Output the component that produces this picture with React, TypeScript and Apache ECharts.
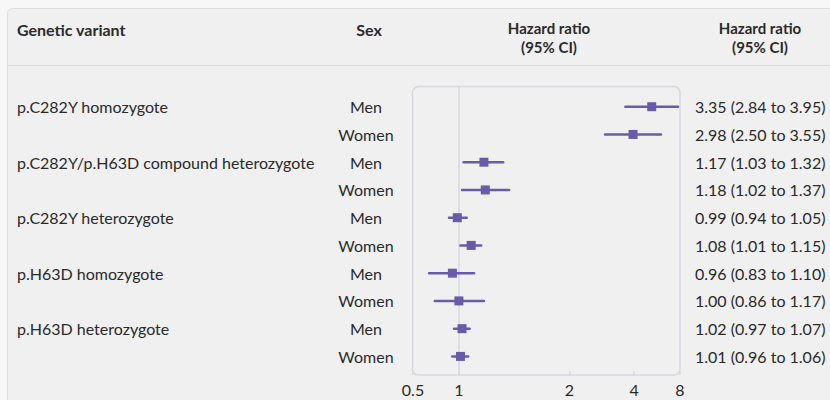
import React, { useEffect, useRef } from "react";
import * as echarts from "echarts";

// ---- data ----
const variants = [
  "p.C282Y homozygote",
  "p.C282Y/p.H63D compound heterozygote",
  "p.C282Y heterozygote",
  "p.H63D homozygote",
  "p.H63D heterozygote",
];
const sexes = ["Men", "Women"];
const hazardRatio = [3.35, 2.98, 1.17, 1.18, 0.99, 1.08, 0.96, 1.0, 1.02, 1.01];
const ciLower = [2.84, 2.5, 1.03, 1.02, 0.94, 1.01, 0.83, 0.86, 0.97, 0.96];
const ciUpper = [3.95, 3.55, 1.32, 1.37, 1.05, 1.15, 1.1, 1.17, 1.07, 1.06];
const tickLabels = ["0.5", "1", "2", "4", "8"];
const tickAt = [0.75, 1, 2, 3, 4]; // scale value where each printed label sits
const axisMin = 0.75;
const axisMax = 4;
const headerVariant = "Genetic variant";
const headerSex = "Sex";
const headerHR = ["Hazard ratio", "(95% CI)"];

// ---- style ----
const PURPLE = "#6a5aaa";
const TEXT = "#2a2a2a";
const BORDER = "#d6d8de";
const FONT = "Lato";
const GRID = { left: 413, right: 150, top: 87, bottom: 25 };

export default function App() {
  const ref = useRef<HTMLDivElement>(null);
  useEffect(() => {
    if (!ref.current) return;
    const chart = echarts.init(ref.current, undefined, { renderer: "svg" });
    const rows: { variant: string; sex: string }[] = [];
    variants.forEach((v) => sexes.forEach((s, si) => rows.push({ variant: si === 0 ? v : "", sex: s })));
    const data = rows.map((r, i) => [i, Math.log2(hazardRatio[i]), Math.log2(ciLower[i]), Math.log2(ciUpper[i])]);
    const tickVals = tickAt.map((t) => Math.log2(t));
    const fmt = (n: number) => n.toFixed(2);
    const bFont = `16px ${FONT}`;
    const headerText = (text: string, x: number, y: number, align: string, size: number) => ({
      type: "text",
      x,
      y,
      style: { text, font: `bold ${size}px ${FONT}`, fill: TEXT, textAlign: align, textVerticalAlign: "middle" },
    });

    chart.setOption({
      animation: false,
      backgroundColor: "#f7f7f7",
      grid: { ...GRID },
      xAxis: {
        type: "value",
        min: Math.log2(axisMin),
        max: Math.log2(axisMax),
        axisLine: { show: false, onZero: false },
        splitLine: { show: false },
        axisTick: {
          show: true,
          inside: true,
          length: 4,
          customValues: tickVals,
          lineStyle: { color: BORDER, width: 1.5 },
        },
        axisLabel: {
          customValues: tickVals,
          margin: 6,
          color: TEXT,
          fontSize: 16,
          fontFamily: FONT,
          formatter: (v: number) => {
            const i = tickVals.findIndex((t) => Math.abs(t - v) < 1e-6);
            return i >= 0 ? tickLabels[i] : "";
          },
        },
      },
      yAxis: {
        type: "value",
        inverse: true,
        min: -0.71,
        max: 9.67,
        show: false,
      },
      graphic: [
        {
          type: "rect",
          z: -10,
          shape: { x: 7.5, y: 8.5, width: 900, height: 500, r: 5 },
          style: { fill: "#f0f0f0", stroke: "#dcdde1", lineWidth: 1 },
        },
        {
          type: "line",
          z: -9,
          shape: { x1: 7.5, y1: 65.5, x2: 830, y2: 65.5 },
          style: { stroke: "#dcdde1", lineWidth: 1 },
        },
        {
          type: "rect",
          z: -8,
          shape: { x: GRID.left - 0.5, y: GRID.top - 0.5, width: 830 - GRID.left - GRID.right + 0.5, height: 400 - GRID.top - GRID.bottom + 0.5, r: 6 },
          style: { fill: "none", stroke: BORDER, lineWidth: 1.5 },
        },
        headerText(headerVariant, 17, 29, "left", 16),
        headerText(headerSex, 369, 29, "center", 16),
        headerText(headerHR[0], 549, 28, "center", 15),
        headerText(headerHR[1], 549, 46.5, "center", 15),
        headerText(headerHR[0], 760, 28, "center", 15),
        headerText(headerHR[1], 760, 46.5, "center", 15),
      ],
      series: [
        {
          type: "custom",
          z: 5,
          data,
          encode: { x: [1, 2, 3], y: 0 },
          markLine: {
            silent: true,
            symbol: "none",
            label: { show: false },
            lineStyle: { color: BORDER, width: 1.5, type: "solid" },
            data: [{ xAxis: 0 }],
          },
          renderItem: (params: any, api: any) => {
            const i = api.value(0) as number;
            const c = api.coord([api.value(1), i]);
            const l = api.coord([api.value(2), i]);
            const u = api.coord([api.value(3), i]);
            const row = rows[i];
            const txt = `${fmt(hazardRatio[i])} (${fmt(ciLower[i])} to ${fmt(ciUpper[i])})`;
            return {
              type: "group",
              children: [
                {
                  type: "line",
                  shape: { x1: l[0], y1: c[1], x2: u[0], y2: c[1] },
                  style: { stroke: PURPLE, lineWidth: 2.5, lineCap: "round" },
                },
                {
                  type: "rect",
                  shape: { x: c[0] - 4.5, y: c[1] - 4.5, width: 9, height: 9 },
                  style: { fill: PURPLE },
                },
                {
                  type: "text",
                  x: 17,
                  y: c[1],
                  style: { text: row.variant, font: bFont, fill: TEXT, textAlign: "left", textVerticalAlign: "middle" },
                },
                {
                  type: "text",
                  x: 366,
                  y: c[1],
                  style: { text: row.sex, font: bFont, fill: TEXT, textAlign: "center", textVerticalAlign: "middle" },
                },
                {
                  type: "text",
                  x: 695,
                  y: c[1],
                  style: { text: txt, font: bFont, fill: TEXT, textAlign: "left", textVerticalAlign: "middle" },
                },
              ],
            };
          },
        },
      ],
    });
    return () => chart.dispose();
  }, []);
  return <div ref={ref} style={{ position: "fixed", left: 0, top: 0, width: 830, height: 400 }} />;
}
